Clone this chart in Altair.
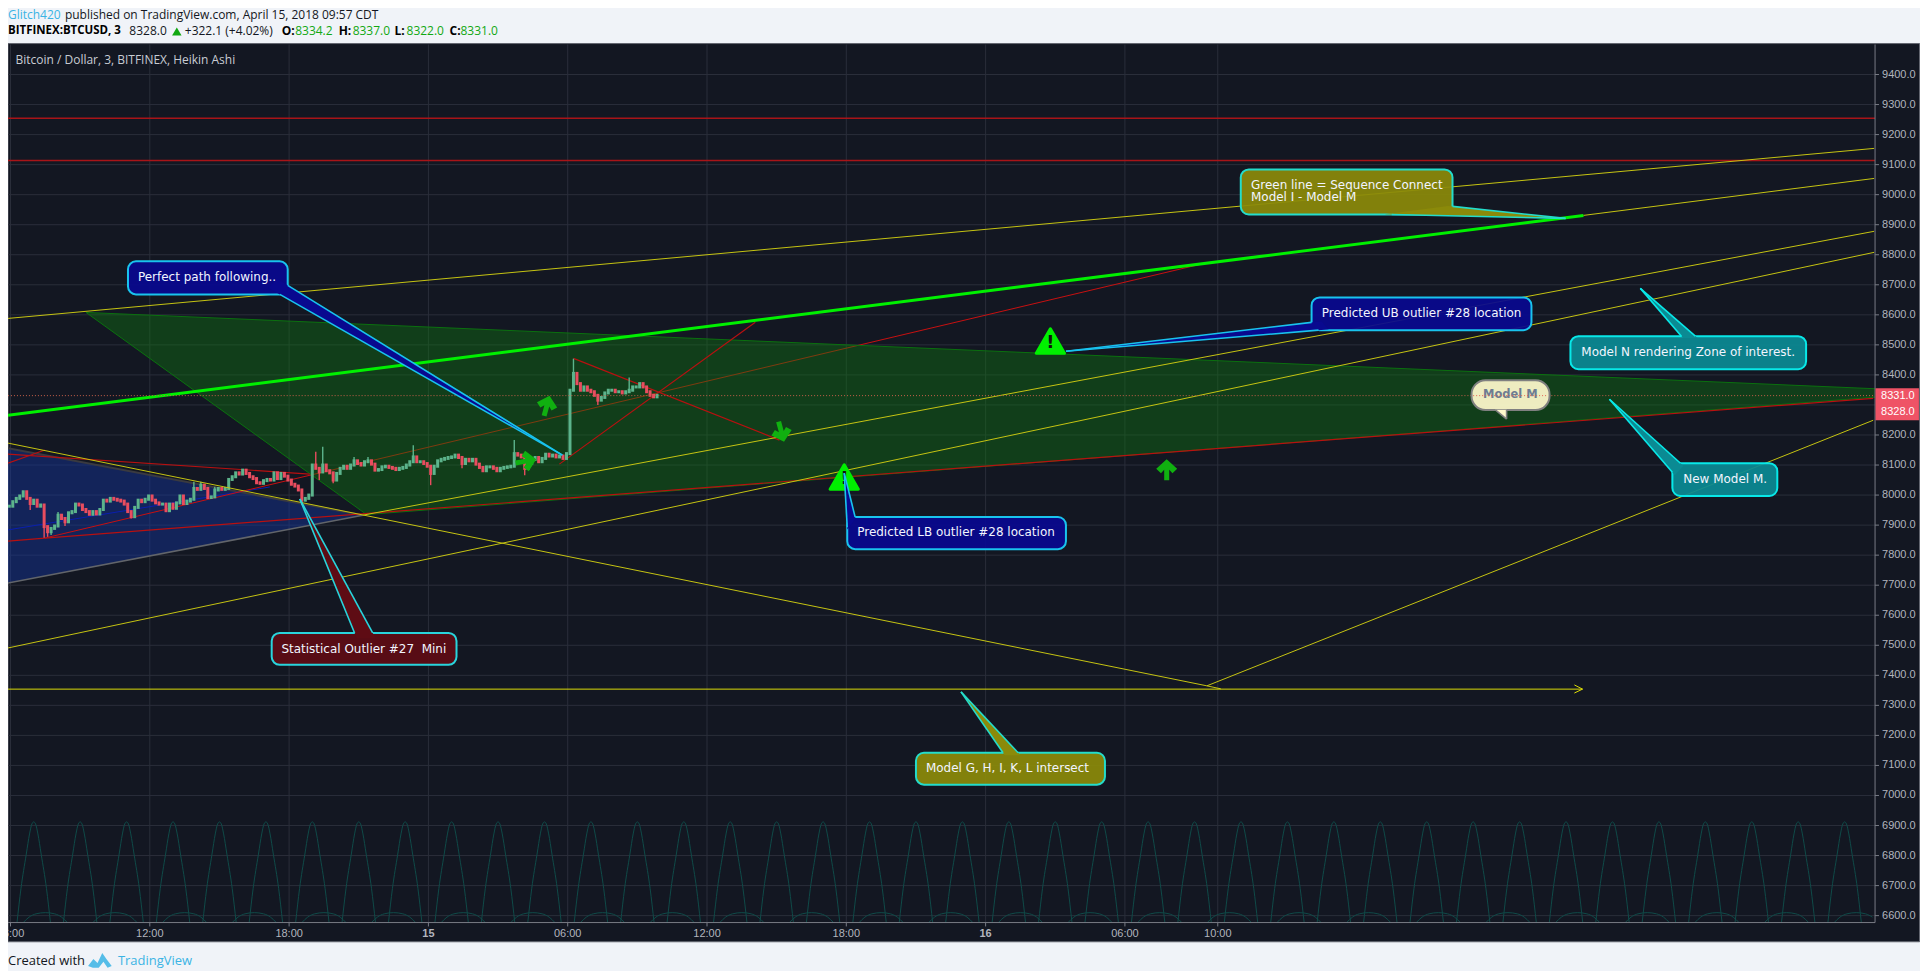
import altair as alt
import pandas as pd

# ---------- axis values ----------
TIME_TICKS = [6, 12, 18, 24, 30, 36, 42, 48, 54, 58]
TIME_LABELS = ["06:00", "12:00", "18:00", "15", "06:00", "12:00", "18:00", "16", "06:00", "10:00"]
PRICE_GRID = list(range(6600, 9500, 100))
PRICE_LABELS = [p for p in PRICE_GRID if p != 8300]

# ---------- candles (9-minute resampled, hours since Apr 14 00:00) ----------
CANDLE_START = 5.948
CANDLE_STEP = 0.15
CANDLE_CLOSE = [
    7963, 7978, 7989, 7997, 8011, 7989, 7972, 7983, 7963, 7967, 7895, 7878, 7889, 7897, 7933, 7922,
    7911, 7941, 7945, 7970, 7967, 7952, 7945, 7936, 7945, 7937, 7952, 7983, 7980, 7989, 7986, 7983,
    7980, 7970, 7945, 7928, 7959, 7983, 7978, 7986, 7997, 7983, 7974, 7970, 7970, 7948, 7970, 7956,
    7974, 7997, 7972, 7980, 7986, 8022, 8019, 8033, 8022, 7992, 7994, 8017, 8022, 8019, 8022, 8052,
    8061, 8074, 8070, 8083, 8072, 8061, 8055, 8041, 8039, 8048, 8052, 8050, 8074, 8055,
    8072, 8063, 8050, 8036, 8030, 8017, 7983, 7989, 8000, 8100, 8089, 8077, 8100, 8081, 8074, 8050,
    8072, 8089, 8096, 8089, 8100, 8114, 8105, 8100, 8111, 8114, 8103, 8083, 8085, 8094, 8096, 8092,
    8089, 8085, 8089, 8092, 8100, 8111, 8127, 8111, 8111, 8105, 8096, 8072, 8096, 8114, 8119, 8122,
    8125, 8127, 8133, 8125, 8105, 8119, 8114, 8119, 8103, 8092, 8081, 8094, 8094, 8089, 8081, 8089,
    8092, 8094, 8096, 8138, 8133, 8127, 8089, 8105, 8119, 8125, 8111, 8122, 8136, 8130, 8133, 8127,
    8130, 8122, 8138, 8349, 8405, 8371, 8349, 8360, 8349, 8344, 8332, 8316, 8325, 8340, 8349, 8349,
    8344, 8344, 8340, 8344, 8349, 8360, 8360, 8371, 8360, 8344, 8332, 8327, 8332,
]
WICK_INDEX = [6, 10, 10, 11, 12, 14, 16, 35, 53, 55, 57, 59, 84, 88, 89, 90, 93, 99, 103, 116, 121,
              130, 145, 148, 162, 163, 169, 178]
WICK_PRICE = [7950, 7955, 7858, 7861, 7867, 7944, 7897, 7922, 8044, 8044, 7987, 8028, 7967, 8144,
              8050, 8161, 8039, 8127, 8127, 8166, 8033, 8089, 8183, 8066, 8454, 8404, 8300, 8391]

# ---------- drawn lines: (t1, p1, t2, p2) ----------
HORIZONTAL_RED = [(5.89, 9254, 86.31, 9254), (5.89, 9114, 86.31, 9114)]
RED_UNDER_ZONE = [(7.48, 7857, 57.40, 8771)]
RED_OVER_ZONE = [
    (5.89, 8106, 7.48, 8150), (5.89, 8136, 18.89, 8070), (5.89, 7847, 7.48, 7857),
    (7.48, 7857, 86.23, 8322), (29.64, 8103, 38.08, 8575), (30.25, 8455, 39.12, 8183),
]
YELLOW = [
    (5.89, 8588, 86.27, 9154), (73.75, 8931, 86.27, 9054), (21.17, 7933, 86.27, 8878),
    (5.89, 7491, 86.27, 8808), (5.89, 8173, 57.53, 7365), (57.53, 7365, 58.13, 7355),
    (57.53, 7365, 86.23, 8249),
]
HORIZONTAL_YELLOW = [
    (5.89, 7354, 73.71, 7354), (73.36, 7368, 73.71, 7354), (73.36, 7341, 73.71, 7354),
]
BRIGHT_GREEN = [(5.89, 8266, 73.75, 8931)]
DARK_BLUE = [(5.89, 7884, 17.17, 8027)]
BLUE_TOP = [(5.89, 8156, 21.17, 7933)]
BLUE_BOTTOM = [(5.89, 7707, 21.17, 7933)]
ZONE_EDGES = [(9.25, 8608, 86.31, 8354), (9.25, 8608, 21.34, 7935), (21.34, 7935, 86.31, 8326)]
LAST_PRICE = [(5.89, 8331, 86.31, 8331)]

GREEN_ZONE = [(9.25, 8608), (86.31, 8354), (86.31, 8326), (21.34, 7935)]
BLUE_ZONE = [(5.89, 8156), (21.17, 7933), (5.89, 7707)]

# ---------- oscillator arches at the bottom ----------
TALL_PEAKS = list(range(7, 87, 2))
TALL_OFFSETS = [-0.72, -0.55, -0.32, -0.18, -0.08, 0, 0.08, 0.18, 0.32, 0.55, 0.72]
TALL_PRICES = [6577, 6690, 6805, 6872, 6905, 6912, 6905, 6872, 6805, 6690, 6577]
LOW_CENTRES = [7.5 + 3 * k for k in range(27)]
LOW_OFFSETS = [-0.95, -0.70, -0.40, 0, 0.40, 0.70, 0.95]
LOW_PRICES = [6577, 6595, 6606, 6610, 6606, 6595, 6577]

# ---------- callouts ----------
NAVY, OLIVE, TEAL, MAROON, CREAM = "#09098f", "#8b8a0a", "#0b8a93", "#5e0c14", "#fffacd"
BLUE_EDGE, GREEN_EDGE, CYAN_EDGE, GREY_EDGE = "#19c3ee", "#24dccb", "#08e8e8", "#808080"
# fill, edge, t1, t2, p_low, p_high, tip, base1, base2
CALLOUTS = [
    (NAVY, BLUE_EDGE, 11.06, 17.94, 8668, 8778, (29.77, 8133), (17.94, 8698), (17.60, 8668)),
    (MAROON, "#29d4dc", 17.25, 25.21, 7435, 7541, (18.46, 7987), (20.82, 7541), (21.60, 7541)),
    (NAVY, BLUE_EDGE, 42.04, 51.46, 7820, 7927, (41.91, 8073), (42.04, 7893), (42.38, 7927)),
    (NAVY, BLUE_EDGE, 62.04, 71.51, 8549, 8658, (51.46, 8479), (62.04, 8575), (62.34, 8549)),
    (OLIVE, GREEN_EDGE, 58.99, 68.11, 8934, 9084, (72.98, 8921), (68.11, 8961), (65.49, 8934)),
    (TEAL, CYAN_EDGE, 73.19, 83.34, 8419, 8529, (76.20, 8688), (77.97, 8529), (78.57, 8529)),
    (TEAL, CYAN_EDGE, 77.58, 82.10, 7997, 8106, (74.87, 8319), (77.58, 8076), (77.93, 8106)),
    (OLIVE, GREEN_EDGE, 45.00, 53.14, 7036, 7142, (46.94, 7345), (48.75, 7142), (49.40, 7142)),
]
BUBBLE = (CREAM, GREY_EDGE, 68.93, 72.29, 8283, 8382, (70.44, 8253), (69.97, 8283), (70.44, 8283))
CALLOUT_TEXT = [
    (11.49, 8725, "Perfect path following.."),
    (17.67, 7488, "Statistical Outlier #27\u00a0 Mini"),
    (42.47, 7877, "Predicted LB outlier #28 location"),
    (62.48, 8606, "Predicted UB outlier #28 location"),
    (59.43, 9031, "Green line = Sequence Connect"),
    (59.43, 8992, "Model I - Model M"),
    (73.66, 8475, "Model N rendering Zone of interest."),
    (78.05, 8053, "New Model M."),
    (45.43, 7092, "Model G, H, I, K, L intersect"),
]
WARNINGS = [(50.79, 8513), (41.91, 8060)]
ARROWS = [(55.80, 8084, 0), (29.10, 8297, 15), (28.20, 8113, 80), (39.20, 8211, 165)]

# ---------- colours / fonts ----------
PANEL, GRID = "#131722", "#2a2e3a"
PAGE = "#f0f3f8"
HEAD_FONT = "Open Sans"
LABEL_FONT = "DejaVu Sans"
AXIS_FONT = "Liberation Sans"
AXIS_TEXT, AXIS_LINE = "#b2b5be", "#787b86"

T_MIN, T_MAX = 5.892, 86.31
P_MIN, P_MAX = 6577, 9500
xs = alt.Scale(domain=[T_MIN, T_MAX], nice=False, zero=False)
ys = alt.Scale(domain=[P_MIN, P_MAX], nice=False, zero=False)


def X(f="t"):
    return alt.X(f"{f}:Q", scale=xs, axis=None, title=None)


def Y(f="p"):
    return alt.Y(f"{f}:Q", scale=ys, axis=None, title=None)


def segs(rows, color, width, opacity=1.0, dash=None):
    df = pd.DataFrame(rows, columns=["t", "p", "t2", "p2"])
    kw = dict(color=color, strokeWidth=width, opacity=opacity)
    if dash:
        kw["strokeDash"] = dash
    return alt.Chart(df).mark_rule(**kw).encode(x=X(), y=Y(), x2=alt.X2("t2:Q"), y2=alt.Y2("p2:Q"))


def polygon_rows(verts, group, fill):
    xsv = sorted({v[0] for v in verts})
    n = len(verts)
    rows = []
    for x in xsv:
        vals = []
        for i in range(n):
            a, b = verts[i], verts[(i + 1) % n]
            lo, hi = min(a[0], b[0]), max(a[0], b[0])
            if lo <= x <= hi:
                if a[0] == b[0]:
                    vals += [a[1], b[1]]
                else:
                    vals.append(a[1] + (b[1] - a[1]) * (x - a[0]) / (b[0] - a[0]))
        rows.append({"t": x, "p": min(vals), "p2": max(vals), "g": group, "c": fill})
    return rows


def polygons(rows, opacity=1.0):
    return alt.Chart(pd.DataFrame(rows)).mark_area(opacity=opacity, interpolate="linear").encode(
        x=X(), y=Y(), y2=alt.Y2("p2:Q"), detail="g:N", color=alt.Color("c:N", scale=None))


def chrome(px, py, text, color="#000000", size=12, weight="normal", font=HEAD_FONT, align="left"):
    return alt.Chart(pd.DataFrame({"a": [0]})).mark_text(
        text=text, color=color, fontSize=size, fontWeight=weight, font=font, align=align,
        baseline="middle").encode(x=alt.value(px - 8), y=alt.value(py - 44))


layers = []

# panel
panel = pd.DataFrame({"t": [T_MIN], "t2": [88.23], "p": [9503], "p2": [6513]})
layers.append(alt.Chart(panel).mark_rect(fill=PANEL, stroke="#62656f", strokeWidth=1).encode(
    x=X(), x2=alt.X2("t2:Q"), y=Y(), y2=alt.Y2("p2:Q")))

# grid
layers.append(segs([(T_MIN, v, T_MAX, v) for v in PRICE_GRID], GRID, 1))
layers.append(segs([(v, P_MIN, v, P_MAX) for v in TIME_TICKS], GRID, 1))

# red horizontals, blue zone
layers.append(segs(HORIZONTAL_RED, "#a81418", 1.5))
layers.append(polygons(polygon_rows(BLUE_ZONE, "blue", "#1535a0"), 0.45))
layers.append(segs(BLUE_TOP, "#3a3a40", 2))
layers.append(segs(BLUE_BOTTOM, "#62656a", 1.5))
layers.append(segs(DARK_BLUE, "#0a1fb0", 1))

# zone
layers.append(segs(RED_UNDER_ZONE, "#c81010", 1))
layers.append(polygons(polygon_rows(GREEN_ZONE, "green", "#107a10"), 0.4))
layers.append(segs(ZONE_EDGES, "#0b700f", 1))
layers.append(segs(RED_OVER_ZONE, "#b81010", 1.2))

# arches
tall = [{"t": pk + o, "p": v, "g": f"a{pk}"} for pk in TALL_PEAKS for o, v in zip(TALL_OFFSETS, TALL_PRICES)]
low = [{"t": c + o, "p": v, "g": f"b{c}"} for c in LOW_CENTRES for o, v in zip(LOW_OFFSETS, LOW_PRICES)
       if T_MIN <= c + o <= T_MAX]
layers.append(alt.Chart(pd.DataFrame(tall + low)).mark_line(
    color="#0f4a48", strokeWidth=1, interpolate="monotone").encode(x=X(), y=Y(), detail="g:N"))

# candles
UP, DOWN = "#5cb48c", "#e84d5f"
opens = [CANDLE_CLOSE[0]] + CANDLE_CLOSE[:-1]
candles = pd.DataFrame({
    "t": [CANDLE_START + CANDLE_STEP * i for i in range(len(CANDLE_CLOSE))],
    "p": opens, "p2": CANDLE_CLOSE,
    "c": [UP if c >= o else DOWN for o, c in zip(opens, CANDLE_CLOSE)],
})
wicks = pd.DataFrame({
    "t": [CANDLE_START + CANDLE_STEP * i for i in WICK_INDEX],
    "p": [CANDLE_CLOSE[i] for i in WICK_INDEX], "p2": WICK_PRICE,
    "c": [UP if CANDLE_CLOSE[i] >= opens[i] else DOWN for i in WICK_INDEX],
})
layers.append(alt.Chart(wicks).mark_rule(strokeWidth=1.4).encode(
    x=X(), y=Y(), y2=alt.Y2("p2:Q"), color=alt.Color("c:N", scale=None)))
layers.append(alt.Chart(candles).mark_rule(strokeWidth=3, strokeCap="square").encode(
    x=X(), y=Y(), y2=alt.Y2("p2:Q"), color=alt.Color("c:N", scale=None)))

# yellow and green lines
layers.append(segs(YELLOW, "#c6c412", 1))
layers.append(segs(HORIZONTAL_YELLOW, "#dcdc08", 1))
layers.append(segs(BRIGHT_GREEN, "#00f000", 3))
layers.append(segs(LAST_PRICE, "#c8604a", 1, dash=[1, 2]))

# arrows
ARROW_PATH = "M0,-1 L1,-0.1 L0.55,0.32 L0.24,0 L0.24,1 L-0.24,1 L-0.24,0 L-0.55,0.32 L-1,-0.1 Z"
arrows = pd.DataFrame(ARROWS, columns=["t", "p", "a"])
layers.append(alt.Chart(arrows).mark_point(
    shape=ARROW_PATH, filled=True, color="#10b010", size=440, opacity=1).encode(
    x=X(), y=Y(), angle=alt.Angle("a:Q", scale=None)))

# warning triangles
warn = pd.DataFrame(WARNINGS, columns=["t", "p"])
layers.append(alt.Chart(warn).mark_point(
    shape="triangle-up", filled=True, color="#00f000", size=800, opacity=1,
    stroke="#00f000", strokeWidth=3, strokeJoin="round").encode(x=X(), y=Y()))
layers.append(alt.Chart(warn).mark_text(
    text="!", font="DejaVu Sans", fontSize=18, fontWeight="bold", color="#101010", dy=2).encode(x=X(), y=Y()))

# callouts: box, wedge, wedge edges


def box_layer(items, radius):
    boxes = pd.DataFrame([dict(t=c[2], t2=c[3], p=c[4], p2=c[5], f=c[0], s=c[1]) for c in items])
    return alt.Chart(boxes).mark_rect(cornerRadius=radius, strokeWidth=2, fillOpacity=0.93).encode(
        x=X(), x2=alt.X2("t2:Q"), y=Y(), y2=alt.Y2("p2:Q"),
        color=alt.Color("f:N", scale=None), stroke=alt.Stroke("s:N", scale=None))


layers.append(box_layer(CALLOUTS, 8))
layers.append(box_layer([BUBBLE], 14))
wedge_rows = []
edge_rows = []
for i, c in enumerate(CALLOUTS + [BUBBLE]):
    tip, b1, b2 = c[6], c[7], c[8]
    k = 1.04
    e1 = (tip[0] + (b1[0] - tip[0]) * k, tip[1] + (b1[1] - tip[1]) * k)
    e2 = (tip[0] + (b2[0] - tip[0]) * k, tip[1] + (b2[1] - tip[1]) * k)
    wedge_rows += polygon_rows([tip, e1, e2], f"w{i}", c[0])
    edge_rows.append(dict(t=tip[0], p=tip[1], t2=b1[0], p2=b1[1], s=c[1]))
    edge_rows.append(dict(t=tip[0], p=tip[1], t2=b2[0], p2=b2[1], s=c[1]))
layers.append(polygons(wedge_rows))
layers.append(alt.Chart(pd.DataFrame(edge_rows)).mark_rule(strokeWidth=1.6).encode(
    x=X(), y=Y(), x2=alt.X2("t2:Q"), y2=alt.Y2("p2:Q"), color=alt.Color("s:N", scale=None)))

# callout text
ctext = pd.DataFrame(CALLOUT_TEXT, columns=["t", "p", "label"])
layers.append(alt.Chart(ctext).mark_text(
    align="left", baseline="middle", font=LABEL_FONT, fontSize=12, color="#f2f5ff").encode(
    x=X(), y=Y(), text="label:N"))
layers.append(alt.Chart(pd.DataFrame({"t": [70.6], "p": [8332], "label": ["Model M"]})).mark_text(
    align="center", baseline="middle", font=LABEL_FONT, fontSize=11.5, fontWeight="bold", color="#6e7c92").encode(
    x=X(), y=Y(), text="label:N"))
layers.append(segs([(69.0, 8331, 72.2, 8331)], "#e06050", 1, dash=[1, 2]))

# axis lines, ticks and labels
layers.append(segs([(T_MIN, P_MIN, T_MAX, P_MIN), (T_MAX, P_MIN, T_MAX, P_MAX)], AXIS_LINE, 1))
layers.append(segs([(v, P_MIN, v, P_MIN - 13) for v in TIME_TICKS], AXIS_LINE, 1))
layers.append(segs([(T_MAX, v, T_MAX + 0.17, v) for v in PRICE_LABELS], AXIS_LINE, 1))
time_rows = pd.DataFrame({"t": TIME_TICKS, "p": [P_MIN] * len(TIME_TICKS), "label": TIME_LABELS})
for part, weight in ((time_rows[~time_rows["label"].isin(["15", "16"])], "normal"),
                     (time_rows[time_rows["label"].isin(["15", "16"])], "bold")):
    layers.append(alt.Chart(part).mark_text(
        align="center", baseline="middle", font=AXIS_FONT, fontSize=11, color=AXIS_TEXT,
        fontWeight=weight, dy=11).encode(x=X(), y=Y(), text="label:N"))
price_rows = pd.DataFrame({"t": [T_MAX] * len(PRICE_LABELS), "p": PRICE_LABELS,
                           "label": [f"{v:.1f}" for v in PRICE_LABELS]})
layers.append(alt.Chart(price_rows).mark_text(
    align="left", baseline="middle", font=AXIS_FONT, fontSize=11, color=AXIS_TEXT, dx=7).encode(
    x=X(), y=Y(), text="label:N"))

# price boxes
pb = pd.DataFrame({"t": [86.33, 86.33], "t2": [88.2, 88.2], "p": [8356, 8303], "p2": [8303, 8249]})
layers.append(alt.Chart(pb).mark_rect(fill="#ef5366").encode(
    x=X(), x2=alt.X2("t2:Q"), y=Y(), y2=alt.Y2("p2:Q")))
pbt = pd.DataFrame({"t": [86.57, 86.57], "p": [8329, 8276], "label": ["8331.0", "8328.0"]})
layers.append(alt.Chart(pbt).mark_text(
    align="left", baseline="middle", font=AXIS_FONT, fontSize=11, color="#ffffff").encode(
    x=X(), y=Y(), text="label:N"))

# page text
BLUE_LINK, UP_GREEN = "#3bb3e4", "#12a812"
layers += [
    chrome(8, 15, "Glitch420", BLUE_LINK),
    chrome(65, 15, "published on TradingView.com, April 15, 2018 09:57 CDT", "#131722"),
    chrome(8, 31, "BITFINEX:BTCUSD, 3", "#000000", weight="bold", size=11.5),
    chrome(129.5, 31, "8328.0", "#131722"),
    chrome(185, 31, "+322.1 (+4.02%)", "#131722"),
    chrome(282, 31, "O:", "#000000", weight="bold"),
    chrome(295.5, 31, "8334.2", UP_GREEN),
    chrome(339, 31, "H:", "#000000", weight="bold"),
    chrome(353, 31, "8337.0", UP_GREEN),
    chrome(395, 31, "L:", "#000000", weight="bold"),
    chrome(407, 31, "8322.0", UP_GREEN),
    chrome(450, 31, "C:", "#000000", weight="bold"),
    chrome(461, 31, "8331.0", UP_GREEN),
    chrome(15.6, 60, "Bitcoin / Dollar, 3, BITFINEX, Heikin Ashi", "#c8ccd4", size=12),
    chrome(8, 961, "Created with", "#131722", size=13),
    chrome(118, 961, "TradingView", BLUE_LINK, size=13),
]
layers.append(alt.Chart(pd.DataFrame({"a": [0]})).mark_point(
    shape="triangle-up", filled=True, color=UP_GREEN, size=90, opacity=1).encode(
    x=alt.value(177 - 8), y=alt.value(31 - 44)))
CLOUD = "M-1,0.55 L-0.55,-0.05 L-0.2,0.3 L0.2,-0.55 L0.55,-0.05 L1,0.55 L0.65,0.7 L0.3,0.2 L-0.1,0.7 L-0.6,0.7 Z"
layers.append(alt.Chart(pd.DataFrame({"a": [0]})).mark_point(
    shape=CLOUD, filled=True, color="#55bde8", size=560, opacity=1).encode(
    x=alt.value(100 - 8), y=alt.value(960 - 44)))

chart = alt.layer(*layers).properties(
    width=1869, height=879,
    autosize=alt.AutoSizeParams(type="none"),
    padding={"left": 0, "top": 36, "right": 45, "bottom": 48},
    background=PAGE,
).configure_view(stroke=None)

chart.save("out.html", embed_options={"renderer": "svg", "actions": False})
